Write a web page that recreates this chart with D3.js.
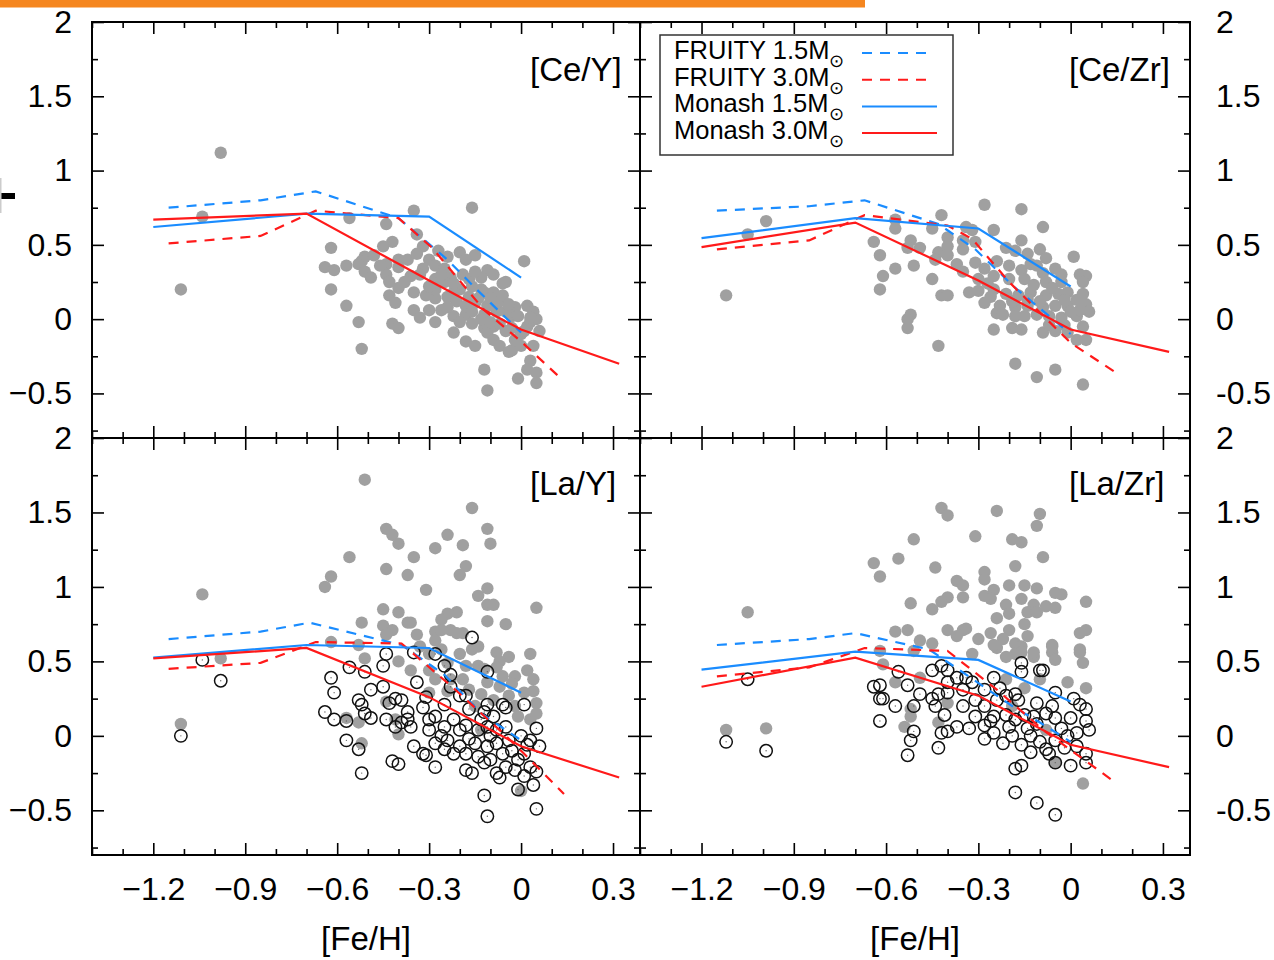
<!DOCTYPE html>
<html>
<head>
<meta charset="utf-8">
<script src="https://cdn.jsdelivr.net/npm/d3@7"></script>
<style>
	body { margin: 0; background: #fff; }
	svg { display: block; }
	text { font-family: "Liberation Sans", Arial, Helvetica, sans-serif; fill: #000; }
</style>
</head>
<body>
<svg id="chart" width="1274" height="960"></svg>
<script>
// ---- data ([Fe/H], ratio) ----
const X_TICKS = [-1.2, -0.9, -0.6, -0.3, 0, 0.3],
	Y_TICKS = [-0.5, 0, 0.5, 1, 1.5, 2];

const CEY_STARS = [[-0.98,1.12],[-1.04,0.69],[-1.11,0.20],
	[-0.16,0.75],[-0.35,0.73],[-0.56,0.68],[-0.44,0.64],[-0.34,0.57],[-0.42,0.52],[-0.45,0.49],[-0.32,0.49],[-0.62,0.48],
	[-0.27,0.46],[-0.20,0.45],[-0.15,0.43],[-0.51,0.42],[-0.52,0.39],[-0.48,0.43],[-0.40,0.40],[-0.37,0.40],[-0.30,0.40],
	[-0.18,0.40],[0.01,0.39],[-0.64,0.35],[-0.61,0.33],[-0.57,0.36],[-0.53,0.37],[-0.44,0.37],[-0.40,0.35],[-0.32,0.34],
	[-0.28,0.36],[-0.25,0.34],[-0.51,0.32],[-0.49,0.28],[-0.44,0.30],[-0.36,0.29],[-0.11,0.33],[-0.09,0.30],[-0.13,0.28],
	[-0.17,0.27],[-0.28,0.27],[-0.23,0.28],[-0.05,0.25],[-0.06,0.24],[-0.43,0.25],[-0.40,0.21],[-0.62,0.20],[-0.20,0.20],
	[-0.22,0.18],[-0.13,0.20],[-0.09,0.18],[-0.43,0.16],[-0.41,0.11],[-0.31,0.16],[-0.28,0.14],[-0.24,0.15],[-0.21,0.12],
	[-0.18,0.09],[-0.15,0.11],[-0.11,0.09],[-0.08,0.10],[0.02,0.09],[-0.57,0.09],[-0.35,0.06],[-0.30,0.06],[-0.26,0.06],
	[-0.22,0.02],[-0.18,0.03],[-0.12,0.03],[-0.08,0.05],[-0.05,0.05],[0.04,0.05],[0.05,0.00],[-0.33,0.01],[-0.28,-0.02],
	[-0.20,-0.02],[-0.16,-0.03],[-0.12,-0.06],[-0.09,-0.05],[-0.03,-0.06],[0.02,-0.05],[0.06,-0.08],[-0.53,-0.02],[-0.42,-0.03],
	[-0.40,-0.06],[-0.22,-0.09],[-0.18,-0.15],[-0.15,-0.18],[-0.11,-0.09],[-0.09,-0.14],[-0.07,-0.18],[-0.03,-0.21],[0.00,-0.18],
	[0.04,-0.18],[-0.04,-0.22],[-0.52,-0.20],[0.03,-0.28],[0.02,-0.34],[0.05,-0.36],[-0.12,-0.34],[-0.01,-0.40],[0.05,-0.43],
	[-0.11,-0.48],[-0.28,0.20],[-0.25,0.25],[-0.19,0.30],[-0.15,0.32],[-0.12,0.18],[-0.07,0.12],[-0.03,0.02],[0.00,-0.10],
	[-0.05,-0.08],[0.03,-0.02],[-0.17,0.15],[-0.24,0.08],[-0.13,0.00],[-0.10,-0.02],[-0.02,0.08],[-0.35,0.18],[-0.38,0.25],
	[-0.26,0.30],[-0.22,0.24],[-0.16,0.22],[-0.14,0.14],[-0.10,0.14],[-0.06,0.16],[-0.04,0.10],[-0.01,0.02],[0.03,0.01],
	[0.01,-0.08],[-0.02,-0.14],[-0.07,-0.03],[-0.16,0.05],[-0.30,0.22],[-0.33,0.30],[-0.46,0.36],[-0.34,0.44],[-0.24,0.42]];

const CEZR_STARS = [[-0.99,0.66],[-1.05,0.57],[-1.12,0.16],[-0.62,0.43],[-0.62,0.20],
	[-0.28,0.77],[-0.16,0.74],[-0.42,0.70],[-0.57,0.67],[-0.57,0.61],[-0.45,0.61],[-0.34,0.62],[-0.32,0.60],[-0.25,0.60],
	[-0.09,0.62],[-0.64,0.52],[-0.52,0.53],[-0.49,0.48],[-0.53,0.48],[-0.40,0.55],[-0.40,0.49],[-0.35,0.53],[-0.35,0.47],
	[-0.31,0.52],[-0.16,0.53],[-0.21,0.48],[-0.18,0.46],[-0.14,0.44],[-0.10,0.47],[-0.08,0.41],[0.01,0.42],[-0.43,0.45],
	[-0.40,0.43],[-0.44,0.40],[-0.51,0.36],[-0.57,0.34],[-0.37,0.37],[-0.35,0.32],[-0.31,0.38],[-0.28,0.34],[-0.24,0.39],
	[-0.20,0.36],[-0.16,0.33],[-0.13,0.37],[-0.09,0.31],[-0.05,0.34],[0.03,0.30],[0.05,0.29],[-0.61,0.29],[-0.45,0.27],
	[-0.30,0.27],[-0.25,0.29],[-0.20,0.27],[-0.15,0.27],[-0.08,0.25],[-0.03,0.25],[0.04,0.25],[-0.42,0.16],[-0.40,0.16],
	[-0.33,0.18],[-0.30,0.19],[-0.25,0.20],[-0.21,0.17],[-0.17,0.16],[-0.13,0.18],[-0.08,0.16],[-0.04,0.17],[-0.01,0.18],
	[0.04,0.17],[-0.28,0.11],[-0.23,0.09],[-0.18,0.08],[-0.14,0.09],[-0.09,0.08],[-0.05,0.09],[-0.01,0.09],[0.05,0.10],
	[0.06,0.05],[-0.24,0.04],[-0.22,0.03],[-0.18,0.02],[-0.15,0.02],[-0.11,0.03],[-0.07,0.02],[-0.03,0.01],[0.02,0.02],
	[-0.52,0.03],[-0.53,0.00],[-0.53,-0.06],[-0.19,-0.06],[-0.16,-0.07],[-0.25,-0.07],[-0.09,-0.09],[-0.05,-0.08],[-0.01,-0.09],
	[0.02,-0.14],[0.05,-0.14],[-0.43,-0.18],[-0.18,-0.30],[-0.11,-0.39],[-0.05,-0.34],[0.04,-0.44],
	[-0.12,0.23],[-0.06,0.21],[-0.02,0.13],[0.02,0.13],[0.03,0.06],[-0.10,0.12],[-0.14,0.13],[-0.19,0.12],[-0.26,0.15],
	[-0.11,0.36],[-0.03,0.30],[0.00,0.05],[-0.07,-0.04],[-0.02,-0.04],[0.04,-0.05],[-0.27,0.24]];

const LAY_STARS = [[-1.04,0.95],[-0.98,0.52],[-1.11,0.08],[-0.62,0.63],[-0.62,1.07],
	[-0.51,1.72],[-0.16,1.53],[-0.44,1.39],[-0.42,1.35],[-0.40,1.29],[-0.24,1.35],[-0.11,1.39],[-0.10,1.29],[-0.28,1.26],
	[-0.19,1.28],[-0.35,1.20],[-0.56,1.20],[-0.44,1.12],[-0.37,1.08],[-0.18,1.14],[-0.20,1.08],[-0.64,1.00],[-0.31,0.98],
	[-0.11,0.99],[-0.14,0.94],[-0.11,0.88],[-0.09,0.88],[0.05,0.86],[-0.45,0.85],[-0.40,0.83],[-0.21,0.83],[-0.24,0.82],
	[-0.26,0.78],[-0.52,0.76],[-0.36,0.76],[-0.11,0.77],[-0.05,0.75],[-0.45,0.74],[-0.42,0.71],[-0.28,0.70],[-0.23,0.71],
	[-0.19,0.69],[-0.34,0.68],[-0.53,0.61],[-0.28,0.64],[-0.16,0.58],[-0.08,0.56],[-0.04,0.53],[0.03,0.55],[-0.51,0.52],
	[-0.07,0.50],[0.02,0.44],[-0.26,0.71],[-0.21,0.69],[-0.14,0.60],[-0.14,0.47],[-0.19,0.38],[-0.24,0.49],[-0.23,0.38],
	[-0.17,0.31],[-0.11,0.36],[-0.07,0.33],[-0.04,0.27],[0.01,0.29],[0.04,0.30],[0.05,0.22],[-0.01,0.13],[0.03,0.11],
	[-0.40,0.50],[-0.36,0.44],[-0.30,0.44],[-0.57,0.12],[-0.53,0.09],[-0.52,-0.05],[-0.41,0.11],[-0.40,0.01],[-0.44,0.23],
	[-0.28,0.38],[-0.30,0.29],[-0.13,0.04],[0.00,-0.37],[-0.37,0.76],[-0.44,0.68],[-0.33,0.60],[-0.20,0.55],[-0.12,0.45],
	[-0.06,0.40],[-0.02,0.20],[-0.09,0.24],[-0.15,0.20],[-0.26,0.58],
	[-0.08,0.46],[-0.02,0.40],[0.04,0.38],[-0.13,0.28],[-0.03,0.35],[0.05,0.15],[-0.18,0.47],[-0.24,0.30],[-0.30,0.55]];

const LAY_OPEN = [[-1.04,0.51],[-0.98,0.37],[-1.11,0.00],
	[-0.16,0.66],[-0.44,0.55],[-0.35,0.56],[-0.28,0.55],[-0.45,0.47],[-0.56,0.46],[-0.51,0.43],[-0.62,0.39],[-0.25,0.47],
	[-0.23,0.41],[-0.11,0.43],[-0.34,0.36],[-0.49,0.31],[-0.45,0.33],[-0.61,0.29],[-0.23,0.33],[-0.20,0.27],[-0.18,0.27],
	[0.01,0.21],[-0.11,0.21],[-0.06,0.21],[-0.53,0.24],[-0.41,0.25],[-0.39,0.24],[-0.31,0.26],[-0.52,0.21],[-0.43,0.22],
	[-0.32,0.19],[-0.25,0.21],[-0.17,0.18],[-0.12,0.16],[-0.09,0.13],[-0.05,0.19],[-0.64,0.16],[-0.61,0.11],[-0.51,0.15],
	[-0.49,0.12],[-0.57,0.10],[-0.44,0.11],[-0.41,0.06],[-0.39,0.09],[-0.37,0.16],[-0.37,0.11],[-0.36,0.06],[-0.30,0.11],
	[-0.28,0.13],[-0.30,0.04],[-0.25,0.06],[-0.22,0.11],[-0.20,0.04],[-0.18,0.07],[-0.14,0.04],[-0.11,0.06],[-0.08,0.04],
	[-0.05,0.06],[0.00,0.00],[0.03,-0.03],[0.05,0.05],[0.06,-0.07],[-0.57,-0.03],[-0.53,-0.09],[-0.35,-0.07],[-0.32,-0.12],
	[-0.31,-0.13],[-0.42,-0.17],[-0.40,-0.19],[-0.28,-0.21],[-0.28,-0.05],[-0.24,-0.03],[-0.22,-0.12],[-0.20,-0.07],
	[-0.18,-0.12],[-0.18,-0.23],[-0.14,-0.14],[-0.16,-0.25],[-0.11,-0.07],[-0.10,-0.16],[-0.08,-0.25],[-0.06,-0.12],
	[-0.05,-0.21],[-0.01,-0.16],[0.01,-0.27],[0.03,-0.21],[0.05,-0.24],[-0.01,-0.36],[0.04,-0.33],[-0.12,-0.40],[0.05,-0.49],
	[-0.11,-0.54],[-0.52,-0.25],[-0.25,-0.09],[-0.08,-0.05],[-0.13,0.11],[-0.04,-0.03],[0.01,-0.12],[-0.15,-0.05],
	[-0.12,-0.18],[-0.03,-0.10],[0.02,-0.06],[-0.07,-0.28],[-0.02,-0.23],[-0.10,0.00],[-0.17,-0.02],[-0.26,0.00]];

const LAZR_STARS = [[-1.05,0.83],[-1.12,0.04],[-0.99,0.05],[-0.64,1.16],[-0.62,1.07],[-0.62,0.57],
	[-0.42,1.53],[-0.40,1.48],[-0.24,1.51],[-0.10,1.49],[-0.11,1.41],[-0.31,1.34],[-0.19,1.32],[-0.16,1.30],[-0.51,1.32],
	[-0.09,1.20],[-0.56,1.19],[-0.44,1.13],[-0.18,1.14],[-0.28,1.10],[-0.28,1.05],[-0.37,1.04],[-0.35,1.01],[-0.20,1.01],
	[-0.15,1.01],[-0.11,0.99],[-0.25,0.98],[-0.05,0.96],[-0.03,0.95],[-0.40,0.93],[-0.35,0.93],[-0.28,0.94],[-0.26,0.92],
	[-0.16,0.92],[0.05,0.90],[-0.52,0.89],[-0.42,0.90],[-0.21,0.88],[-0.12,0.88],[-0.08,0.87],[-0.05,0.86],[-0.45,0.85],
	[-0.20,0.82],[-0.14,0.83],[-0.11,0.83],[-0.24,0.79],[-0.15,0.75],[-0.53,0.71],[-0.40,0.71],[-0.35,0.71],[-0.34,0.72],
	[-0.20,0.71],[0.05,0.71],[0.03,0.69],[-0.57,0.70],[-0.37,0.67],[-0.26,0.69],[-0.30,0.65],[-0.22,0.65],[-0.14,0.67],
	[-0.06,0.61],[-0.49,0.64],[-0.45,0.62],[-0.24,0.59],[-0.18,0.62],[-0.16,0.60],[-0.12,0.53],[-0.06,0.56],[-0.05,0.51],
	[0.03,0.58],[0.04,0.49],[-0.18,0.55],[-0.21,0.53],[-0.61,0.48],[-0.51,0.57],[-0.32,0.55],[-0.25,0.61],[-0.16,0.56],
	[-0.12,0.56],[-0.06,0.60],[0.03,0.56],[-0.01,0.36],[0.05,0.32],[-0.10,0.38],[-0.15,0.32],[-0.21,0.38],[-0.57,0.36],
	[-0.49,0.39],[-0.52,0.18],[-0.52,0.13],[-0.54,0.06],[-0.43,0.09],[-0.40,0.22],[-0.05,-0.18],[0.04,-0.32],[-0.19,0.20],
	[-0.08,0.04]];

const LAZR_OPEN = [[-1.05,0.38],[-1.12,-0.04],[-0.99,-0.10],[-0.62,0.25],[-0.62,0.10],
	[-0.16,0.49],[-0.16,0.43],[-0.10,0.44],[-0.09,0.44],[-0.05,0.29],[0.01,0.25],[-0.56,0.43],[-0.64,0.33],[-0.62,0.34],
	[-0.45,0.44],[-0.42,0.47],[-0.40,0.44],[-0.40,0.36],[-0.37,0.39],[-0.34,0.39],[-0.35,0.31],[-0.32,0.36],[-0.28,0.31],
	[-0.25,0.39],[-0.23,0.32],[-0.53,0.34],[-0.49,0.28],[-0.61,0.25],[-0.45,0.25],[-0.43,0.28],[-0.44,0.20],[-0.57,0.20],
	[-0.51,0.20],[-0.40,0.29],[-0.35,0.20],[-0.31,0.24],[-0.28,0.20],[-0.24,0.24],[-0.21,0.27],[-0.18,0.28],[-0.17,0.24],
	[-0.11,0.22],[-0.06,0.20],[0.03,0.21],[0.05,0.18],[-0.41,0.14],[-0.31,0.13],[-0.28,0.07],[-0.25,0.13],[-0.21,0.14],
	[-0.18,0.11],[-0.15,0.14],[-0.12,0.13],[-0.08,0.15],[-0.05,0.12],[0.00,0.12],[0.05,0.10],[0.06,0.04],[-0.51,0.03],
	[-0.52,-0.03],[-0.42,0.02],[-0.40,0.03],[-0.37,0.06],[-0.33,0.05],[-0.28,-0.02],[-0.25,0.02],[-0.22,-0.05],[-0.19,0.00],
	[-0.16,-0.06],[-0.13,0.00],[-0.10,-0.04],[-0.08,-0.09],[-0.05,-0.03],[-0.01,0.00],[0.02,-0.07],[0.05,-0.12],[-0.43,-0.08],
	[-0.53,-0.13],[-0.13,-0.11],[-0.16,-0.20],[-0.18,-0.22],[-0.05,-0.18],[0.00,-0.20],[0.05,-0.18],[-0.18,-0.38],
	[-0.11,-0.45],[-0.05,-0.53],[-0.14,0.05],[-0.11,0.08],[-0.03,0.05],[0.02,0.02],[-0.07,-0.12],[-0.20,0.06],[-0.26,0.10],
	[-0.02,-0.08]];

// model tracks
const FRUITY15_CEY = [[-1.15,0.75],[-0.85,0.80],[-0.67,0.86],[-0.40,0.68],[-0.24,0.40],[-0.15,0.21],[0,-0.09]],
	FRUITY30_CEY = [[-1.15,0.51],[-0.85,0.56],[-0.67,0.73],[-0.40,0.68],[-0.29,0.48],[-0.12,0.06],[0,-0.15],[0.12,-0.38]],
	MONASH15_CEY = [[-1.2,0.62],[-0.7,0.71],[-0.3,0.69],[0,0.28]],
	MONASH30_CEY = [[-1.2,0.67],[-0.7,0.71],[-0.3,0.26],[0,-0.07],[0.32,-0.30]];

const FRUITY15_CEZR = [[-1.15,0.73],[-0.85,0.76],[-0.67,0.80],[-0.43,0.64],[-0.31,0.47],[-0.18,0.21],[0,-0.10]],
	FRUITY30_CEZR = [[-1.15,0.47],[-0.85,0.53],[-0.67,0.70],[-0.40,0.63],[-0.32,0.54],[-0.20,0.25],[0,-0.16],[0.14,-0.35]],
	MONASH15_CEZR = [[-1.2,0.545],[-0.7,0.68],[-0.3,0.61],[0,0.22]],
	MONASH30_CEZR = [[-1.2,0.485],[-0.7,0.65],[-0.3,0.26],[0,-0.07],[0.32,-0.22]];

const FRUITY15_LAY = [[-1.15,0.65],[-0.85,0.70],[-0.69,0.76],[-0.39,0.61],[-0.25,0.41],[-0.13,0.15],[0,-0.03]],
	FRUITY30_LAY = [[-1.15,0.45],[-0.85,0.49],[-0.76,0.56],[-0.67,0.63],[-0.39,0.62],[-0.22,0.32],[-0.06,0.02],[0.01,-0.12],[0.14,-0.39]],
	MONASH15_LAY = [[-1.2,0.525],[-0.7,0.61],[-0.3,0.59],[0,0.29]],
	MONASH30_LAY = [[-1.2,0.52],[-0.7,0.59],[-0.3,0.26],[0,-0.07],[0.32,-0.28]];

const FRUITY15_LAZR = [[-1.15,0.61],[-0.85,0.65],[-0.70,0.69],[-0.46,0.58],[-0.19,0.20],[-0.10,0.09],[0,-0.04]],
	FRUITY30_LAZR = [[-1.15,0.40],[-0.85,0.46],[-0.78,0.51],[-0.67,0.59],[-0.40,0.57],[-0.24,0.31],[-0.09,0.04],[0.07,-0.20],[0.13,-0.29]],
	MONASH15_LAZR = [[-1.2,0.445],[-0.7,0.565],[-0.3,0.51],[0,0.23]],
	MONASH30_LAZR = [[-1.2,0.33],[-0.7,0.525],[-0.3,0.27],[0,-0.06],[0.32,-0.21]];

const LEGEND_LABELS = ['FRUITY 1.5M', 'FRUITY 3.0M', 'Monash 1.5M', 'Monash 3.0M'];

// ---- layout ----
const BLUE = '#1a8cff', RED = '#ff1a1a', GREY = '#a0a0a0',
	FONT_TICK = 32, FONT_LABEL = 33,
	X_DOMAIN = [-1.4, 0.388],
	Y_DOMAIN = [-0.8, 2],
	cols = [[92, 640], [640, 1190]],
	rows = [[22, 438], [438, 855]];

const svg = d3.select('#chart');

// bits of the page frame around the figure
svg.append('rect').attr('x', 0).attr('y', 0).attr('width', 865).attr('height', 7.5).attr('fill', '#f5861f');
svg.append('rect').attr('x', 0).attr('y', 193).attr('width', 15).attr('height', 6).attr('fill', '#000');
svg.append('rect').attr('x', 0).attr('y', 178).attr('width', 1.5).attr('height', 35).attr('fill', '#ccc');

const panels = [
	{label: '[Ce/Y]', col: 0, row: 0, stars: CEY_STARS, open: [], lines: [FRUITY15_CEY, FRUITY30_CEY, MONASH15_CEY, MONASH30_CEY]},
	{label: '[Ce/Zr]', col: 1, row: 0, stars: CEZR_STARS, open: [], lines: [FRUITY15_CEZR, FRUITY30_CEZR, MONASH15_CEZR, MONASH30_CEZR]},
	{label: '[La/Y]', col: 0, row: 1, stars: LAY_STARS, open: LAY_OPEN, lines: [FRUITY15_LAY, FRUITY30_LAY, MONASH15_LAY, MONASH30_LAY]},
	{label: '[La/Zr]', col: 1, row: 1, stars: LAZR_STARS, open: LAZR_OPEN, lines: [FRUITY15_LAZR, FRUITY30_LAZR, MONASH15_LAZR, MONASH30_LAZR]}
];

const lineStyles = [
	{color: BLUE, dash: '10,8'},
	{color: RED, dash: '10,8'},
	{color: BLUE, dash: null},
	{color: RED, dash: null}
];

const fmt = d => String(d).replace('-', '\u2212'),
	fmtRight = d => String(d);
const minorX = d3.range(-14, 4).map(i => i / 10).filter(v => Math.abs(Math.round(v / 0.3) * 0.3 - v) > 1e-6),
	minorY = d3.range(-3, 9).map(i => i / 4).filter(v => Math.abs(v * 2 - Math.round(v * 2)) > 1e-6);

function tickGroup(g, axis, tx, ty, withText) {
	const t = g.append('g')
		.attr('transform', `translate(${tx},${ty})`)
		.call(axis);
	t.select('.domain').remove();
	t.selectAll('.tick line').attr('stroke-width', 1.6);
	t.attr('font-size', FONT_TICK).attr('font-family', null);
	if (!withText) t.selectAll('.tick text').remove();
	return t;
}

panels.forEach((p, i) => {
	const [x0, x1] = cols[p.col],
		[y0, y1] = rows[p.row];
	const x = d3.scaleLinear().domain(X_DOMAIN).range([x0, x1]),
		y = d3.scaleLinear().domain(Y_DOMAIN).range([y1, y0]);

	const g = svg.append('g');
	const clipId = 'clip' + i;
	svg.append('clipPath').attr('id', clipId)
		.append('rect').attr('x', x0).attr('y', y0).attr('width', x1 - x0).attr('height', y1 - y0);

	const plot = g.append('g').attr('clip-path', `url(#${clipId})`);

	plot.selectAll('circle.star').data(p.stars).join('circle')
		.classed('star', true)
		.attr('cx', d => x(d[0]))
		.attr('cy', d => y(d[1]))
		.attr('r', 6.2)
		.attr('fill', GREY);

	const open = plot.selectAll('g.open').data(p.open).join('g')
		.classed('open', true)
		.attr('transform', d => `translate(${x(d[0])},${y(d[1])})`);
	open.append('circle').attr('r', 6.2).attr('fill', 'none').attr('stroke', '#111').attr('stroke-width', 1.5);
	open.append('circle').attr('r', 0.7).attr('fill', '#666');

	const line = d3.line().x(d => x(d[0])).y(d => y(d[1]));
	p.lines.forEach((pts, k) => {
		plot.append('path')
			.attr('d', line(pts))
			.attr('fill', 'none')
			.attr('stroke', lineStyles[k].color)
			.attr('stroke-width', 2.2)
			.attr('stroke-dasharray', lineStyles[k].dash);
	});

	// ticks on all four sides, pointing inward
	tickGroup(g, d3.axisBottom(x).tickValues(X_TICKS).tickSize(-12).tickPadding(22).tickFormat(fmt), 0, y1, p.row === 1);
	tickGroup(g, d3.axisBottom(x).tickValues(minorX).tickSize(-6).tickFormat(''), 0, y1, false);
	tickGroup(g, d3.axisTop(x).tickValues(X_TICKS).tickSize(-12).tickFormat(''), 0, y0, false);
	tickGroup(g, d3.axisTop(x).tickValues(minorX).tickSize(-6).tickFormat(''), 0, y0, false);
	tickGroup(g, d3.axisLeft(y).tickValues(Y_TICKS).tickSize(-12).tickPadding(20).tickFormat(fmt), x0, 0, p.col === 0);
	tickGroup(g, d3.axisLeft(y).tickValues(minorY).tickSize(-6).tickFormat(''), x0, 0, false);
	tickGroup(g, d3.axisRight(y).tickValues(Y_TICKS).tickSize(-12).tickPadding(26).tickFormat(fmtRight), x1, 0, p.col === 1);
	tickGroup(g, d3.axisRight(y).tickValues(minorY).tickSize(-6).tickFormat(''), x1, 0, false);

	g.append('rect')
		.attr('x', x0).attr('y', y0)
		.attr('width', x1 - x0).attr('height', y1 - y0)
		.attr('fill', 'none').attr('stroke', '#000').attr('stroke-width', 2);

	g.append('text')
		.attr('x', x0 + (p.col === 0 ? 438 : 429))
		.attr('y', p.row === 0 ? 81 : 495)
		.attr('font-size', FONT_LABEL)
		.text(p.label);

	if (p.row === 1) {
		g.append('text')
			.attr('x', (x0 + x1) / 2)
			.attr('y', 950)
			.attr('text-anchor', 'middle')
			.attr('font-size', FONT_LABEL)
			.text('[Fe/H]');
	}
});

// legend (top right panel)
const legend = svg.append('g');
legend.append('rect')
	.attr('x', 660).attr('y', 35).attr('width', 293).attr('height', 120)
	.attr('fill', '#fff').attr('stroke', '#333').attr('stroke-width', 1.5);

LEGEND_LABELS.forEach((lab, k) => {
	const yy = 59 + k * 26.7;
	const t = legend.append('text')
		.attr('x', 674).attr('y', yy)
		.attr('font-size', 25.5);
	t.append('tspan').text(lab);
	t.append('tspan').attr('dy', 8).attr('font-size', 18).text('\u2299');
	legend.append('line')
		.attr('x1', 862).attr('x2', lineStyles[k].dash ? 930 : 937)
		.attr('y1', yy - 6).attr('y2', yy - 6)
		.attr('stroke', lineStyles[k].color)
		.attr('stroke-width', 2)
		.attr('stroke-dasharray', lineStyles[k].dash);
});
</script>
</body>
</html>
